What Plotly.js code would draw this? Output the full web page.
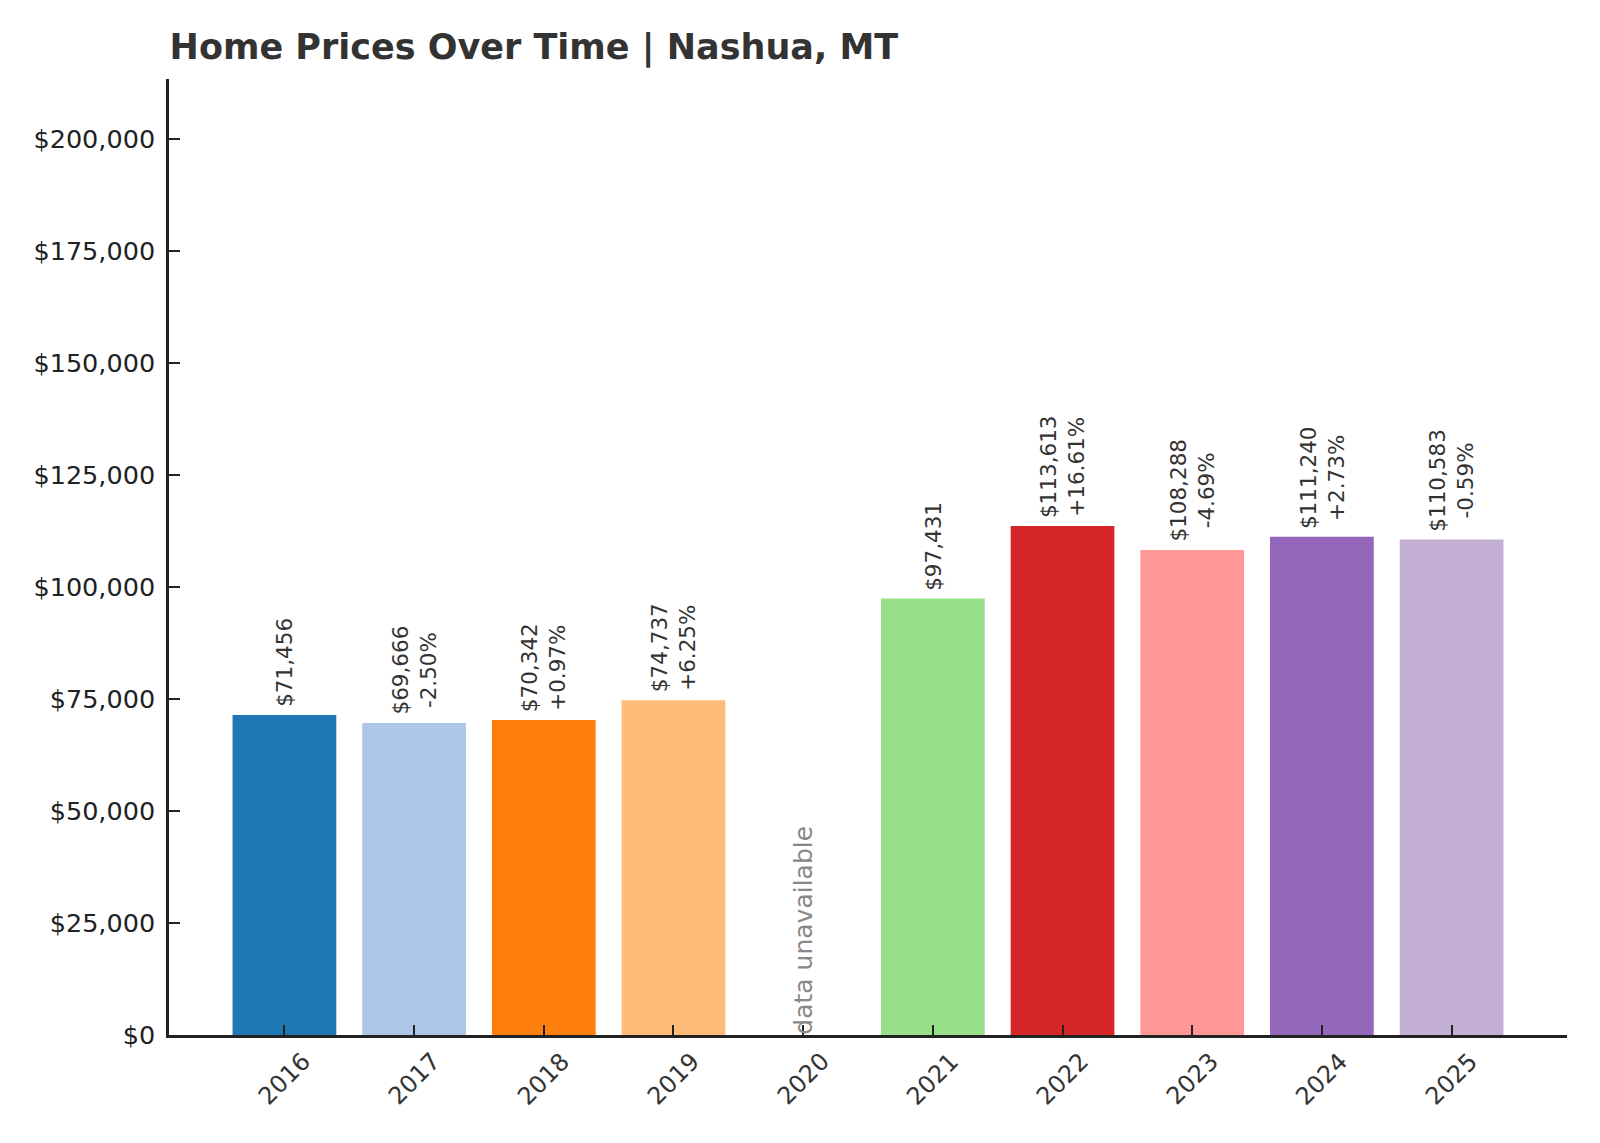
<!DOCTYPE html>
<html>
<head>
<meta charset="utf-8">
<script src="https://cdn.plot.ly/plotly-3.0.1.min.js"></script>
<style>
  html, body { margin: 0; padding: 0; background: #fff; }
  #chart { width: 1600px; height: 1143px; }
</style>
</head>
<body>
<div id="chart"></div>
<script>
// values
var years = ['2016','2017','2018','2019','2020','2021','2022','2023','2024','2025'];
var prices = [71456, 69666, 70342, 74737, null, 97431, 113613, 108288, 111240, 110583];
var pctChange = ['', '-2.50%', '+0.97%', '+6.25%', '', '', '+16.61%', '-4.69%', '+2.73%', '-0.59%'];
var barColors = ['#1f77b4','#aec7e8','#ff7f0e','#ffbb78','#2ca02c','#98df8a','#d62728','#ff9896','#9467bd','#c5b0d5'];
var yTicks = [0, 25000, 50000, 75000, 100000, 125000, 150000, 175000, 200000];

var fontFam = 'DejaVu Sans, Liberation Sans, sans-serif';

function money(v){
  return '$' + v.toLocaleString('en-US');
}

var trace = {
  type: 'bar',
  x: years,
  y: prices,
  width: 0.8,
  marker: {color: barColors, line: {width: 0}},
  hoverinfo: 'skip'
};

// annotation x is the category index: a year string like '2016'
// would be read as a number by the category axis and land off range
var notes = [];
years.forEach(function(yr, i){
  notes.push({
    x: i, y: 0, xref: 'x', yref: 'paper',
    text: yr, showarrow: false, textangle: -45,
    xanchor: 'center', yanchor: 'middle', yshift: -44,
    font: {family: fontFam, size: 24, color: '#333'}
  });
  if(prices[i] == null){
    notes.push({
      x: i, y: 0, xref: 'x', yref: 'y',
      text: 'data unavailable', showarrow: false, textangle: -90,
      xanchor: 'center', yanchor: 'bottom', yshift: -2,
      font: {family: fontFam, size: 25, color: '#888'}
    });
    return;
  }
  var label = money(prices[i]);
  if(pctChange[i]) label += '<br>' + pctChange[i];
  notes.push({
    x: i, y: prices[i], xref: 'x', yref: 'y',
    text: label, showarrow: false, textangle: -90, align: 'center',
    xanchor: 'center', yanchor: 'bottom', yshift: 6,
    font: {family: fontFam, size: 21.5, color: '#333'}
  });
});

var layout = {
  width: 1600,
  height: 1143,
  margin: {l: 169, r: 33, t: 79, b: 108},
  paper_bgcolor: '#fff',
  plot_bgcolor: '#fff',
  showlegend: false,
  bargap: 0.2,
  title: {
    text: 'Home Prices Over Time | Nashua, MT',
    x: 0.106, xref: 'container', xanchor: 'left',
    y: 0.959, yref: 'container', yanchor: 'middle',
    font: {family: fontFam, size: 35, weight: 'bold', color: '#333'}
  },
  xaxis: {
    type: 'category',
    range: [-0.89, 9.89],
    showgrid: false, zeroline: false,
    showline: true, linecolor: '#222', linewidth: 2.5,
    ticks: 'inside', ticklen: 10, tickwidth: 2, tickcolor: '#222',
    showticklabels: false
  },
  yaxis: {
    range: [0, 213400],
    tickvals: yTicks,
    ticktext: yTicks.map(money),
    showgrid: false, zeroline: false,
    showline: true, linecolor: '#222', linewidth: 2.5,
    ticks: 'inside', ticklen: 11, tickwidth: 2, tickcolor: '#222',
    ticklabelstandoff: 6,
    tickfont: {family: fontFam, size: 25.5, color: '#222'}
  },
  annotations: notes
};

Plotly.newPlot('chart', [trace], layout, {displayModeBar: false});
</script>
</body>
</html>
